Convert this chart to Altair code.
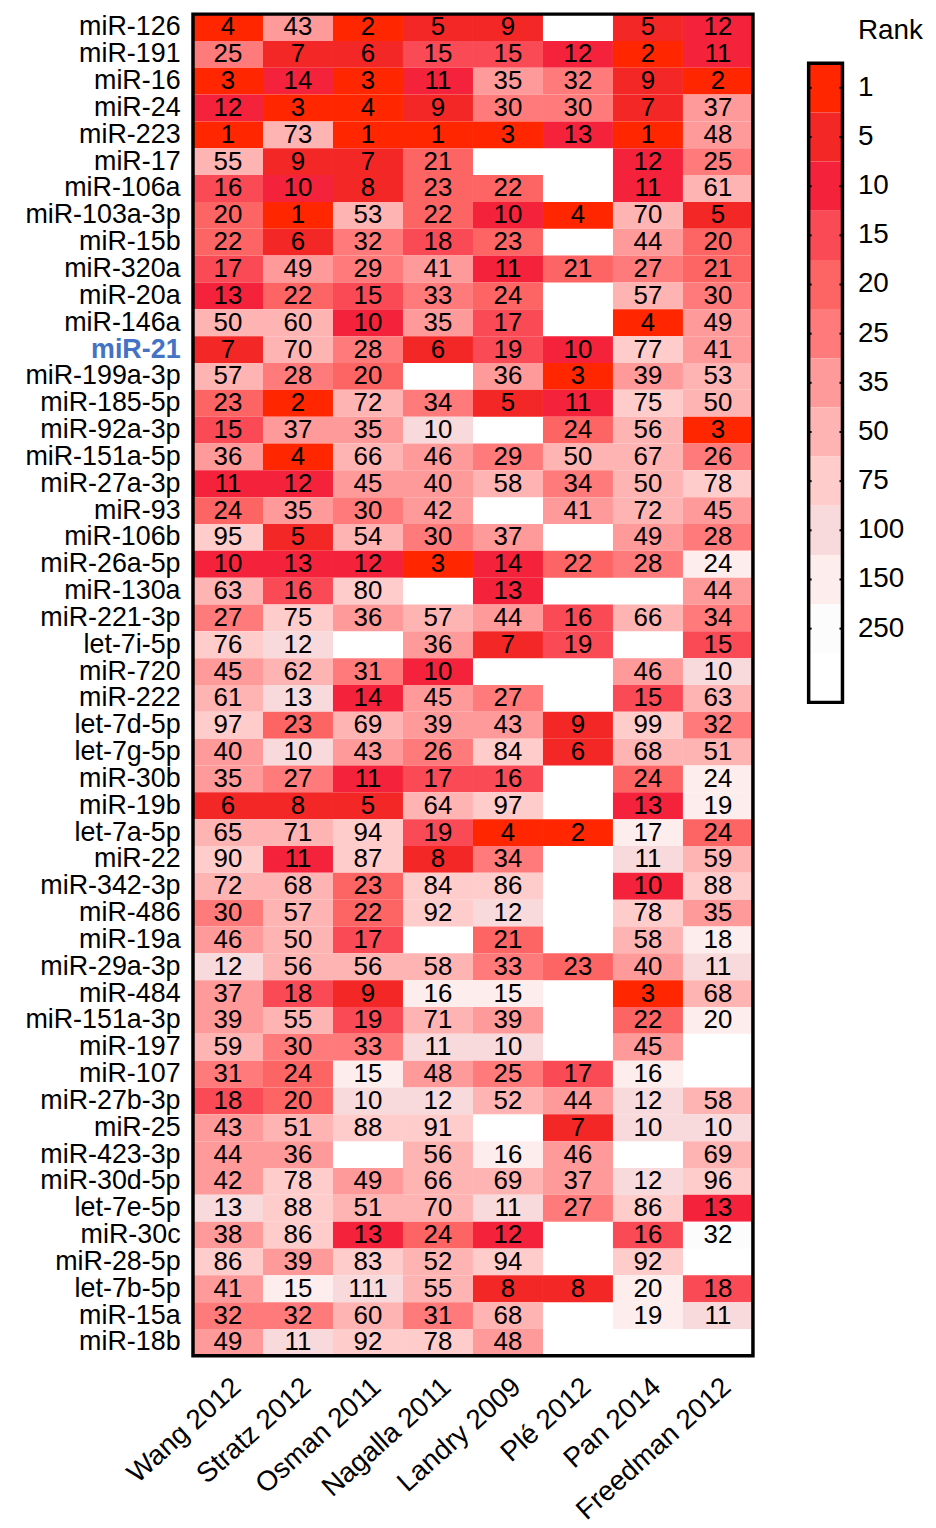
import altair as alt
import pandas as pd

FONT = "Liberation Sans"

mirnas = [
    "miR-126", "miR-191", "miR-16", "miR-24", "miR-223", "miR-17", "miR-106a",
    "miR-103a-3p", "miR-15b", "miR-320a", "miR-20a", "miR-146a", "miR-21",
    "miR-199a-3p", "miR-185-5p", "miR-92a-3p", "miR-151a-5p", "miR-27a-3p",
    "miR-93", "miR-106b", "miR-26a-5p", "miR-130a", "miR-221-3p", "let-7i-5p",
    "miR-720", "miR-222", "let-7d-5p", "let-7g-5p", "miR-30b", "miR-19b",
    "let-7a-5p", "miR-22", "miR-342-3p", "miR-486", "miR-19a", "miR-29a-3p",
    "miR-484", "miR-151a-3p", "miR-197", "miR-107", "miR-27b-3p", "miR-25",
    "miR-423-3p", "miR-30d-5p", "let-7e-5p", "miR-30c", "miR-28-5p",
    "let-7b-5p", "miR-15a", "miR-18b",
]

studies = ["Wang 2012", "Stratz 2012", "Osman 2011", "Nagalla 2011",
           "Landry 2009", "Plé 2012", "Pan 2014", "Freedman 2012"]

# printed rank in each cell (None = no value / blank cell), one list per study
wang = [4, 25, 3, 12, 1, 55, 16, 20, 22, 17, 13, 50, 7, 57, 23, 15, 36, 11, 24, 95,
        10, 63, 27, 76, 45, 61, 97, 40, 35, 6, 65, 90, 72, 30, 46, 12, 37, 39, 59, 31,
        18, 43, 44, 42, 13, 38, 86, 41, 32, 49]
stratz = [43, 7, 14, 3, 73, 9, 10, 1, 6, 49, 22, 60, 70, 28, 2, 37, 4, 12, 35, 5,
          13, 16, 75, 12, 62, 13, 23, 10, 27, 8, 71, 11, 68, 57, 50, 56, 18, 55, 30, 24,
          20, 51, 36, 78, 88, 86, 39, 15, 32, 11]
osman = [2, 6, 3, 4, 1, 7, 8, 53, 32, 29, 15, 10, 28, 20, 72, 35, 66, 45, 30, 54,
         12, 80, 36, None, 31, 14, 69, 43, 11, 5, 94, 87, 23, 22, 17, 56, 9, 19, 33, 15,
         10, 88, None, 49, 51, 13, 83, 111, 60, 92]
nagalla = [5, 15, 11, 9, 1, 21, 23, 22, 18, 41, 33, 35, 6, None, 34, 10, 46, 40, 42, 30,
           3, None, 57, 36, 10, 45, 39, 26, 17, 64, 19, 8, 84, 92, None, 58, 16, 71, 11, 48,
           12, 91, 56, 66, 70, 24, 52, 55, 31, 78]
landry = [9, 15, 35, 30, 3, None, 22, 10, 23, 11, 24, 17, 19, 36, 5, None, 29, 58, None, 37,
          14, 13, 44, 7, None, 27, 43, 84, 16, 97, 4, 34, 86, 12, 21, 33, 15, 39, 10, 25,
          52, None, 16, 69, 11, 12, 94, 8, 68, 48]
ple = [None, 12, 32, 30, 13, None, None, 4, None, 21, None, None, 10, 3, 11, 24, 50, 34, 41, None,
       22, None, 16, 19, None, None, 9, 6, None, None, 2, None, None, None, None, 23, None, None, None, 17,
       44, 7, 46, 37, 27, None, None, 8, None, None]
pan = [5, 2, 9, 7, 1, 12, 11, 70, 44, 27, 57, 4, 77, 39, 75, 56, 67, 50, 72, 49,
       28, None, 66, None, 46, 15, 99, 68, 24, 13, 17, 11, 10, 78, 58, 40, 3, 22, 45, 16,
       12, 10, None, 12, 86, 16, 92, 20, 19, None]
freedman = [12, 11, 2, 37, 48, 25, 61, 5, 20, 21, 30, 49, 41, 53, 50, 3, 26, 78, 45, 28,
            24, 44, 34, 15, 10, 63, 32, 51, 24, 19, 24, 59, 88, 35, 18, 11, 68, 20, None, None,
            58, 10, 69, 96, 13, 32, None, 18, 11, None]

columns = [wang, stratz, osman, nagalla, landry, ple, pan, freedman]

# cells whose printed number is cut short in the figure; colour shows the real rank
true_rank = {
    ("miR-92a-3p", "Nagalla 2011"): 100, ("miR-26a-5p", "Freedman 2012"): 240,
    ("let-7i-5p", "Stratz 2012"): 120, ("miR-720", "Freedman 2012"): 100,
    ("miR-222", "Stratz 2012"): 130, ("let-7g-5p", "Stratz 2012"): 100,
    ("miR-30b", "Freedman 2012"): 240, ("miR-19b", "Freedman 2012"): 190,
    ("let-7a-5p", "Pan 2014"): 170, ("miR-22", "Pan 2014"): 110,
    ("miR-486", "Landry 2009"): 120, ("miR-19a", "Freedman 2012"): 180,
    ("miR-29a-3p", "Wang 2012"): 120, ("miR-29a-3p", "Freedman 2012"): 110,
    ("miR-484", "Nagalla 2011"): 160, ("miR-484", "Landry 2009"): 150,
    ("miR-151a-3p", "Freedman 2012"): 200, ("miR-197", "Nagalla 2011"): 110,
    ("miR-197", "Landry 2009"): 100, ("miR-107", "Osman 2011"): 150,
    ("miR-107", "Pan 2014"): 160, ("miR-27b-3p", "Osman 2011"): 100,
    ("miR-27b-3p", "Nagalla 2011"): 120, ("miR-27b-3p", "Pan 2014"): 120,
    ("miR-25", "Pan 2014"): 100, ("miR-25", "Freedman 2012"): 100,
    ("miR-423-3p", "Landry 2009"): 160, ("miR-30d-5p", "Pan 2014"): 120,
    ("let-7e-5p", "Wang 2012"): 130, ("let-7e-5p", "Landry 2009"): 110,
    ("miR-30c", "Freedman 2012"): 320, ("let-7b-5p", "Stratz 2012"): 150,
    ("let-7b-5p", "Pan 2014"): 200, ("miR-15a", "Pan 2014"): 190,
    ("miR-15a", "Freedman 2012"): 110, ("miR-18b", "Stratz 2012"): 110,
}

rank_breaks = [5, 10, 15, 20, 25, 35, 50, 75, 100, 150, 250]
legend_labels = ["1", "5", "10", "15", "20", "25", "35", "50", "75", "100", "150", "250"]
band_colors = ["#ff2600", "#f42727", "#f4223a", "#f94a55", "#fd6464", "#ff7b7b",
               "#ff9a9a", "#ffb4b4", "#ffcccc", "#f8d9dc", "#fdeded", "#fcfcfc", "#ffffff"]
legend_title = "Rank"

rows = []
for s, vals in zip(studies, columns):
    for m, v in zip(mirnas, vals):
        if v is None:
            continue
        rows.append({"study": s, "miRNA": m, "label": str(v),
                     "rank": true_rank.get((m, s), v)})
df = pd.DataFrame(rows)

FRAME = dict(fillOpacity=0, stroke="black", strokeWidth=3.5)

base = alt.Chart(df).encode(
    x=alt.X("study:N", sort=studies,
            scale=alt.Scale(domain=studies, paddingInner=0, paddingOuter=0),
            axis=alt.Axis(title=None, labelAngle=-42, labelAlign="right",
                          labelBaseline="top", labelFontSize=28, labelFont=FONT,
                          labelColor="black", ticks=False, domain=False,
                          labelPadding=17, labelOverlap=False, labelLimit=400)),
    y=alt.Y("miRNA:N", sort=mirnas,
            scale=alt.Scale(domain=mirnas, paddingInner=0, paddingOuter=0),
            axis=alt.Axis(title=None, ticks=False, domain=False, labelFontSize=27,
                          labelFont=FONT, labelPadding=13, minExtent=181, maxExtent=181,
                          labelOverlap=False, labelLimit=400,
                          labelColor=alt.ExprRef("datum.value === 'miR-21' ? '#4472c4' : 'black'"),
                          labelFontWeight=alt.ExprRef("datum.value === 'miR-21' ? 'bold' : 'normal'"))),
)

cells = base.mark_rect().encode(
    color=alt.Color("rank:Q", legend=None,
                    scale=alt.Scale(type="threshold", domain=rank_breaks,
                                    range=band_colors[:12])))
numbers = base.mark_text(fontSize=26, font=FONT, color="black").encode(text="label:N")
heat_frame = alt.Chart(pd.DataFrame({"frame": [0]})).mark_rect(**FRAME).encode(
    x=alt.value(0), x2=alt.value("width"), y=alt.value(0), y2=alt.value("height"))
heat = alt.layer(cells, numbers, heat_frame).properties(width=563, height=1349)

# legend: a header band holding the title, then the colour bands
bands = [legend_title] + legend_labels + [" "]
legend_df = pd.DataFrame({"band": bands})
lbase = alt.Chart(legend_df).encode(
    y=alt.Y("band:N", sort=bands,
            scale=alt.Scale(domain=bands, paddingInner=0, paddingOuter=0),
            axis=alt.Axis(orient="right", title=None, ticks=False, domain=False,
                          labelFontSize=28, labelFont=FONT, labelColor="black",
                          labelPadding=15, labelOverlap=False,
                          labelBaseline=alt.ExprRef(
                              "datum.value === 'Rank' ? 'alphabetic' : 'middle'"))))
lrect = lbase.mark_rect().encode(
    color=alt.Color("band:N", legend=None,
                    scale=alt.Scale(domain=bands[1:], range=band_colors))
).transform_filter(alt.datum.band != legend_title)
ticked = (alt.datum.band != legend_title) & (alt.datum.band != " ")
ltick_l = lbase.mark_rule(color="black", strokeWidth=2).encode(
    x=alt.value(0), x2=alt.value(3)).transform_filter(ticked)
ltick_r = lbase.mark_rule(color="black", strokeWidth=2).encode(
    x=alt.value(31), x2=alt.value(34)).transform_filter(ticked)
bands_layer = alt.layer(lrect, ltick_l, ltick_r)

# frame around the colour bands only (band 1 .. last band), on a band-count scale
legend_frame = alt.Chart(pd.DataFrame({"lo": [1], "hi": [len(bands)]})).mark_rect(**FRAME).encode(
    x=alt.value(0), x2=alt.value("width"),
    y=alt.Y("lo:Q", axis=None,
            scale=alt.Scale(domain=[0, len(bands)], reverse=True, nice=False, zero=False)),
    y2="hi:Q")
legend = alt.layer(bands_layer, legend_frame).resolve_scale(y="independent").properties(
    width=34, height=692)

chart = alt.hconcat(heat, legend, spacing=52).properties(
    padding={"left": 5, "top": 0, "right": 5, "bottom": 5}
).configure(font=FONT).configure_view(strokeWidth=0)

chart.save("out.html", embed_options={"renderer": "svg", "actions": False})
